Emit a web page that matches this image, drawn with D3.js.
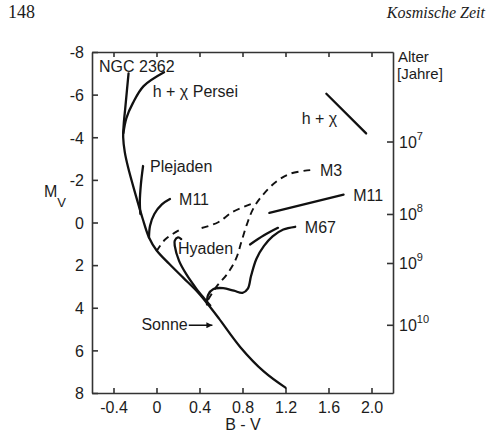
<!DOCTYPE html>
<html><head><meta charset="utf-8">
<script src="https://cdn.jsdelivr.net/npm/d3@7"></script>
<style>
html,body{margin:0;padding:0;background:#fff;}
svg{display:block;}
text{font-family:"Liberation Sans",Arial,sans-serif;fill:#1c1c1c;}
</style></head><body>
<svg id="c" width="490" height="434"></svg>
<script>
// ---- data ----
const xTicks = [-0.4, 0, 0.4, 0.8, 1.2, 1.6, 2.0];
const xTickLabels = ["-0.4", "0", "0.4", "0.8", "1.2", "1.6", "2.0"];
const yTicks = [-8, -6, -4, -2, 0, 2, 4, 6, 8];
const yTickLabels = ["-8", "-6", "-4", "-2", "0", "2", "4", "6", "8"];
const ageExponents = ["7", "8", "9", "10"];
const ageMv = [-3.8, -0.4, 1.9, 4.8];

// cluster sequences [B-V, Mv]
const mainSequence = [[-0.26,-7.0],[-0.275,-6.2],[-0.29,-5.4],[-0.305,-4.6],[-0.31,-4.0],[-0.295,-3.3],[-0.265,-2.6],[-0.2,-1.4],[-0.13,-0.2],[-0.07,0.7],[0.0,1.3],[0.12,1.95],[0.25,2.6],[0.38,3.25],[0.48,3.85],[0.58,4.5],[0.78,5.85],[1.0,7.0],[1.2,7.75]];
const hChiPersei = [[-0.308,-4.2],[-0.28,-4.9],[-0.22,-5.6],[-0.12,-6.4],[0.07,-7.05]];
const plejaden = [[-0.125,-2.65],[-0.145,-1.8],[-0.155,-1.0],[-0.15,-0.4]];
const m11Left = [[0.125,-1.1],[0.05,-0.85],[-0.02,-0.4],[-0.06,0.15],[-0.07,0.7]];
const hyaden = [[0.23,0.78],[0.2,0.7],[0.17,0.85],[0.17,1.1],[0.21,1.8],[0.28,2.45],[0.37,3.1],[0.45,3.6],[0.5,3.9]];
const m67 = [[0.47,3.85],[0.48,3.4],[0.53,3.12],[0.62,3.08],[0.72,3.2],[0.8,3.3],[0.85,3.1],[0.88,2.5],[0.93,1.7],[1.0,1.1],[1.08,0.65],[1.18,0.33],[1.29,0.2]];
const m67Branch = [[0.87,1.03],[1.0,0.6],[1.13,0.25]];
const m3Giant = [[0.48,3.62],[0.56,3.0],[0.66,2.4],[0.74,1.7],[0.79,0.9],[0.84,0.1],[0.9,-0.65],[0.99,-1.3],[1.12,-1.94],[1.25,-2.3],[1.43,-2.46]];
const m3BlueHB = [[0.0,1.35],[0.08,0.8],[0.22,0.33]];
const m3RedHB = [[0.42,0.26],[0.57,0.0],[0.71,-0.5],[0.9,-0.9]];
const m11Right = [[1.05,-0.45],[1.74,-1.31]];
const hChiRight = [[1.58,-6.04],[1.95,-4.18]];
const sunArrow = [[0.3,4.82],[0.52,4.82]];

// ---- layout ----
const svg = d3.select("#c");
const x = d3.scaleLinear().domain([-0.6, 2.2]).range([92, 393]);
const y = d3.scaleLinear().domain([-8, 8]).range([52, 393]);
const ink = "#1c1c1c";

// header
svg.append("text").attr("x", 8).attr("y", 18)
  .style("font-family", '"Liberation Serif",serif').style("font-size", "18px").text("148");
svg.append("text").attr("x", 485).attr("y", 18).attr("text-anchor", "end")
  .style("font-family", '"Liberation Serif",serif').style("font-style", "italic").style("font-size", "16px")
  .text("Kosmische Zeit");

// axes
const gB = svg.append("g").attr("transform", `translate(0,${y(8)})`)
  .call(d3.axisBottom(x).tickValues(xTicks).tickFormat((d,i)=>xTickLabels[i]).tickSize(-5).tickSizeOuter(0).tickPadding(9));
const gT = svg.append("g").attr("transform", `translate(0,${y(-8)})`)
  .call(d3.axisTop(x).tickValues(xTicks).tickFormat("").tickSize(-5).tickSizeOuter(0));
const gL = svg.append("g").attr("transform", `translate(${x(-0.6)},0)`)
  .call(d3.axisLeft(y).tickValues(yTicks).tickFormat((d,i)=>yTickLabels[i]).tickSize(-6).tickSizeOuter(0).tickPadding(8));
const gR = svg.append("g").attr("transform", `translate(${x(2.2)},0)`)
  .call(d3.axisRight(y).tickValues(ageMv).tickFormat("").tickSize(-6).tickSizeOuter(0));

[gB, gT, gL, gR].forEach(g => {
  g.selectAll("path.domain").attr("stroke", "#333").attr("stroke-width", 1.6);
  g.selectAll(".tick line").attr("stroke", "#333").attr("stroke-width", 1.6);
  g.selectAll(".tick text").attr("fill", ink).style("font-size", "16px").style("font-family", '"Liberation Sans",Arial,sans-serif');
});
gL.selectAll(".tick text").attr("dy", "0.36em");

// right axis age labels
gR.selectAll(".tick").each(function(d, i) {
  const t = d3.select(this).append("text").attr("x", 6).attr("y", 6).attr("text-anchor", "start")
    .attr("fill", ink).style("font-size", "16px").style("font-family", '"Liberation Sans",Arial,sans-serif');
  t.append("tspan").text("10");
  t.append("tspan").attr("dy", -8).style("font-size", "11px").text(ageExponents[i]);
});
svg.append("text").attr("x", 398).attr("y", 62).style("font-size", "15px").text("Alter");
svg.append("text").attr("x", 397).attr("y", 79).style("font-size", "15px").text("[Jahre]");

// axis titles
const mv = svg.append("text").attr("x", 44).attr("y", 197).style("font-size", "16px");
mv.append("tspan").text("M");
mv.append("tspan").attr("dy", 10).style("font-size", "13px").text("V");
svg.append("text").attr("x", 243).attr("y", 430).attr("text-anchor", "middle").style("font-size", "16px").text("B - V");

// curves
const line = d3.line().x(d => x(d[0])).y(d => y(d[1])).curve(d3.curveCatmullRom.alpha(0.5));
const solid = [mainSequence, hChiPersei, plejaden, m11Left, hyaden, m67, m67Branch, m11Right, hChiRight];
svg.append("g").selectAll("path").data(solid).join("path")
  .attr("d", line).attr("fill", "none").attr("stroke", "#111").attr("stroke-width", 2.3)
  .attr("stroke-linecap", "round").attr("stroke-linejoin", "round");
const dashed = [m3Giant, m3BlueHB, m3RedHB];
svg.append("g").selectAll("path").data(dashed).join("path")
  .attr("d", line).attr("fill", "none").attr("stroke", "#111").attr("stroke-width", 1.9)
  .attr("stroke-dasharray", "7,5");

// sun arrow
svg.append("defs").append("marker").attr("id", "ah").attr("viewBox", "0 0 10 10")
  .attr("refX", 10).attr("refY", 5).attr("markerWidth", 9).attr("markerHeight", 6)
  .attr("markerUnits", "userSpaceOnUse").attr("orient", "auto")
  .append("path").attr("d", "M0,0L10,5L0,10Z").attr("fill", "#111");
svg.append("path").attr("d", d3.line().x(d => x(d[0])).y(d => y(d[1]))(sunArrow))
  .attr("stroke", "#111").attr("stroke-width", 1.5).attr("fill", "none").attr("marker-end", "url(#ah)");

// labels (placed in data coordinates)
const labels = [
  {t: "NGC 2362", bv: -0.535, mv: -7.07},
  {t: "h + χ Persei", bv: -0.035, mv: -5.87},
  {t: "Plejaden", bv: -0.06, mv: -2.39},
  {t: "M11", bv: 0.21, mv: -0.84},
  {t: "Hyaden", bv: 0.2, mv: 1.5},
  {t: "M3", bv: 1.52, mv: -2.16},
  {t: "M11", bv: 1.83, mv: -0.99},
  {t: "M67", bv: 1.38, mv: 0.47},
  {t: "h + χ", bv: 1.35, mv: -4.6},
  {t: "Sonne", bv: 0.29, mv: 5.05, anchor: "end"}
];
svg.append("g").selectAll("text").data(labels).join("text")
  .attr("x", d => x(d.bv)).attr("y", d => y(d.mv))
  .attr("text-anchor", d => d.anchor || "start")
  .style("font-size", "16px").text(d => d.t);
</script>
</body></html>
